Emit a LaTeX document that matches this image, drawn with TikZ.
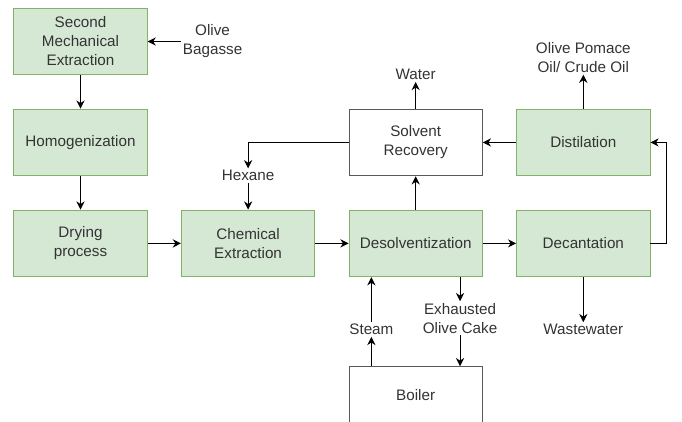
\documentclass[tikz,border=0pt]{standalone}
\usepackage{fontspec}
\setmainfont{Liberation Sans}
\usetikzlibrary{positioning,arrows.meta}
\definecolor{boxfill}{HTML}{D5E8D4}
\definecolor{boxline}{HTML}{82B366}
\definecolor{txt}{HTML}{333333}

\begin{document}
\begin{tikzpicture}[node distance=1cm,
  every node/.style={font=\fontsize{13}{16.2}\selectfont},
  process/.style={rectangle, minimum width=4.0cm, minimum height=2.0cm, align=center, draw=boxline, fill=boxfill, line width=0.8pt, text=txt},
  plainbox/.style={process, draw=black!65, fill=white},
  lbl/.style={align=center, inner sep=1.5pt, text=txt},
  arr/.style={-{Stealth[length=7pt,width=7pt]}, line width=0.8pt}]
\useasboundingbox (0,0) rectangle (20.46,-12.63);

% Process steps
\node (second) [process] at (2.415,-1.245) {Second\\Mechanical\\Extraction};
\node (homog) [process, below=of second] {Homogenization};
\node (drying) [process, below=of homog] {Drying\\process};
\node (chem) [process, right=of drying] {Chemical\\Extraction};
\node (desolv) [process, right=of chem] {Desolventization};
\node (decant) [process, right=of desolv] {Decantation};
\node (distil) [process, above=of decant] {Distilation};
\node (solvent) [plainbox, above=of desolv] {Solvent\\Recovery};
\node (boiler) [plainbox, minimum height=1.68cm, below=2.67cm of desolv] {Boiler};

% Streams
\node (bagasse) [lbl, right=1cm of second] {Olive\\Bagasse};
\node (water) [lbl, above=0.8cm of solvent] {Water};
\node (oil) [lbl, above=1.02cm of distil] {Olive Pomace\\Oil/ Crude Oil};
\node (hexane) [lbl, above=0.8cm of chem] {Hexane};
\node (exhaust) [lbl, below=0.72cm of desolv.south, xshift=1.33cm] {Exhausted\\Olive Cake};
\node (steam) [lbl, below=1.35cm of desolv.south, xshift=-1.33cm] {Steam};
\node (waste) [lbl, below=1.35cm of decant] {Wastewater};

% Connections
\draw[arr] (bagasse) -- (second);
\draw[arr] (second) -- (homog);
\draw[arr] (homog) -- (drying);
\draw[arr] (drying) -- (chem);
\draw[arr] (chem) -- (desolv);
\draw[arr] (desolv) -- (decant);
\draw[arr] (decant.east) -- ++(0.48,0) |- (distil.east);
\draw[arr] (distil) -- (solvent);
\draw[arr] (distil) -- (oil);
\draw[arr] (solvent) -- (water);
\draw[arr] (desolv) -- (solvent);
\draw[arr] (solvent.west) -| (hexane.north);
\draw[arr] (hexane) -- (chem);
\draw[arr] (desolv.south -| exhaust) -- (exhaust);
\draw[arr] (exhaust) -- (exhaust |- boiler.north);
\draw[arr] (boiler.north -| steam) -- (steam);
\draw[arr] (steam) -- (steam |- desolv.south);
\draw[arr] (decant) -- (waste);

\end{tikzpicture}
\end{document}
